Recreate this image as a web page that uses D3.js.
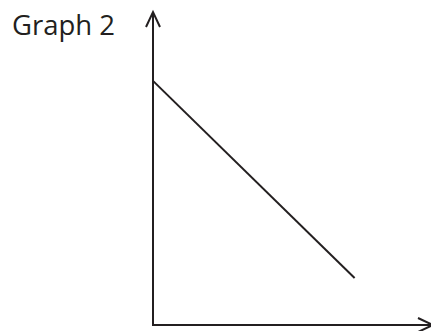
<!DOCTYPE html>
<html lang="en">
<head>
    <meta charset="UTF-8">
    <title>Graph 2</title>
    <script src="https://cdnjs.cloudflare.com/ajax/libs/d3/7.8.5/d3.min.js"></script>
    <style>
    html, body {
        margin: 0;
        background: white;
    }
</style>
</head>
<body>
    <div id="chart"></div>
    <script>
    var title = 'Graph 2';
    var lineX = [0, 7.2];
    var lineY = [7.8, 1.5];

    var width = 431;
    var height = 331;
    var ink = '#231f20';

    var x = d3.scaleLinear().domain([0, 10]).range([153, 433]);
    var y = d3.scaleLinear().domain([0, 10]).range([325, 12]);

    var svg = d3.select('#chart')
        .append('svg')
            .attr('width', width)
            .attr('height', height);

    svg.append('text')
        .attr('x', 12)
        .attr('y', 35)
        .attr('font-family', 'Open Sans, sans-serif')
        .attr('font-size', 27.5)
        .attr('fill', ink)
        .text(title);

    // axes
    svg.append('path')
        .attr('d', 'M' + x(0) + ',' + y(10) + 'L' + x(0) + ',' + y(0) + 'L' + x(10) + ',' + y(0))
        .attr('fill', 'none')
        .attr('stroke', ink)
        .attr('stroke-width', 2);

    // arrow heads
    svg.append('path')
        .attr('d', 'M' + (x(0) - 7) + ',' + (y(10) + 15) + 'L' + x(0) + ',' + y(10) + 'L' + (x(0) + 7) + ',' + (y(10) + 15))
        .attr('fill', 'none')
        .attr('stroke', ink)
        .attr('stroke-width', 2);

    svg.append('path')
        .attr('d', 'M' + (x(10) - 15) + ',' + (y(0) - 7) + 'L' + x(10) + ',' + y(0) + 'L' + (x(10) - 15) + ',' + (y(0) + 7))
        .attr('fill', 'none')
        .attr('stroke', ink)
        .attr('stroke-width', 2);

    var pts = lineX.map(function(d, i){ return [d, lineY[i]]; });

    svg.append('path')
        .datum(pts)
        .attr('d', d3.line().x(function(d){ return x(d[0]); }).y(function(d){ return y(d[1]); }))
        .attr('fill', 'none')
        .attr('stroke', ink)
        .attr('stroke-width', 2);
    </script>
</body>
</html>
